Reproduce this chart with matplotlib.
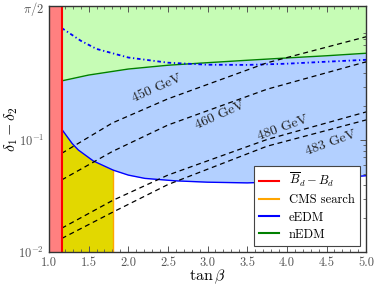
import numpy as np
import matplotlib
matplotlib.use('Agg')
import matplotlib.pyplot as plt
from matplotlib.ticker import FixedLocator, LogLocator, MultipleLocator, NullFormatter
from matplotlib.lines import Line2D

plt.rcParams['font.family'] = 'serif'
plt.rcParams['font.serif'] = ['cmr10']
plt.rcParams['mathtext.fontset'] = 'cm'
plt.rcParams['axes.formatter.use_mathtext'] = True
plt.rcParams['axes.unicode_minus'] = False

# ---- data ----
bd_limit = 1.16
cms_limit = 1.81

tb_eedm = [1.16, 1.29, 1.37, 1.56, 1.81, 2.0, 2.21, 2.59, 3.0, 3.5, 4.0, 4.5, 5.0]
eedm_low = [0.125, 0.0934, 0.0814, 0.0649, 0.0538, 0.0486, 0.0454, 0.0432, 0.042, 0.0414, 0.0425, 0.0448, 0.048]

tb_nedm = [1.16, 1.5, 2.0, 2.5, 3.0, 3.5, 4.0, 4.5, 5.0]
nedm = [0.337, 0.38, 0.43, 0.465, 0.49, 0.515, 0.54, 0.565, 0.595]

tb_dot = [1.16, 1.4, 1.6, 2.0, 2.5, 3.0, 3.5, 4.0, 4.5, 5.0]
eedm_dot = [1.0, 0.77, 0.65, 0.545, 0.49, 0.47, 0.468, 0.48, 0.50, 0.52]

tb_mass = [1.16, 1.8, 2.5, 3.75, 5.0]
m450 = [0.076, 0.142, 0.233, 0.489, 0.835]
m460 = [0.044, 0.079, 0.136, 0.284, 0.499]
m480 = [0.0163, 0.0288, 0.0486, 0.101, 0.178]
m483 = [0.0132, 0.0226, 0.040, 0.088, 0.151]
mass_labels = ['450 GeV', '460 GeV', '480 GeV', '483 GeV']
label_pos = [(2.36, 0.286), (3.15, 0.164), (3.95, 0.128), (4.56, 0.094)]
label_rot = [24, 24, 20, 20]

legend_labels = [r'$\overline{B}_d - B_d$', 'CMS search', 'eEDM', 'nEDM']
legend_colors = ['red', 'orange', 'blue', 'green']

ymin, ymax = 1e-2, np.pi / 2
xmin, xmax = 1.0, 5.0

# ---- figure ----
fig = plt.figure(figsize=(3.74, 2.87), dpi=100)
ax = fig.add_axes([0.131, 0.122, 0.848, 0.857])
ax.set_yscale('log')
ax.set_xlim(xmin, xmax)
ax.set_ylim(ymin, ymax)

# green (nEDM) region
tn = np.array(tb_nedm)
ax.fill_between(tn, nedm, ymax, color='#c6fcb5', lw=0, zorder=1)
# blue region between eEDM lower curve and nEDM curve
te = np.array(tb_eedm)
tb_all = np.union1d(te, tn)
low_all = np.exp(np.interp(tb_all, te, np.log(eedm_low)))
up_all = np.exp(np.interp(tb_all, tn, np.log(nedm)))
ax.fill_between(tb_all, low_all, up_all, color='#b3d0ff', lw=0, zorder=1)
# yellow region (CMS)
mask = tb_all <= cms_limit + 1e-9
ax.fill_between(tb_all[mask], ymin, low_all[mask], color='#e2d800', lw=0, zorder=1.5)
ax.plot([cms_limit, cms_limit], [ymin, np.exp(np.interp(cms_limit, te, np.log(eedm_low)))],
        color='orange', lw=1.0, zorder=2)

# curves
ax.plot(tb_eedm, eedm_low, color='blue', lw=1.0, zorder=3)
ax.plot(tb_nedm, nedm, color='green', lw=1.0, zorder=3)
ax.plot(tb_dot, eedm_dot, color='blue', lw=1.3, ls=(0, (2.0, 1.5, 0.7, 1.5)), zorder=3)

# mass contours
for vals, lab, pos, rot in zip([m450, m460, m480, m483], mass_labels, label_pos, label_rot):
    ax.plot(tb_mass, vals, color='black', lw=0.9, ls=(0, (4, 3)), zorder=4)
    ax.text(pos[0], pos[1], lab, rotation=rot, ha='center', va='center',
            fontsize=10, color='#222222', zorder=5)

# red region (B_d mixing)
ax.axvspan(xmin, bd_limit, color='#ff8080', lw=0, zorder=6)
ax.axvline(bd_limit, color='red', lw=1.5, zorder=7)

# ticks
ax.xaxis.set_major_locator(MultipleLocator(0.5))
ax.xaxis.set_minor_locator(MultipleLocator(0.1))
ax.xaxis.set_major_formatter(plt.FuncFormatter(lambda v, p: f'{v:.1f}'))
ax.yaxis.set_major_locator(FixedLocator([1e-2, 1e-1, np.pi / 2]))
ax.yaxis.set_major_formatter(plt.FixedFormatter([r'$10^{-2}$', r'$10^{-1}$', r'$\pi/2$']))
ax.yaxis.set_minor_locator(LogLocator(base=10, subs=np.arange(2, 10), numticks=20))
ax.yaxis.set_minor_formatter(NullFormatter())
ax.tick_params(which='both', direction='in', top=True, right=True, colors='#555555',
               labelsize=9)
ax.tick_params(which='major', length=4, width=0.7)
ax.tick_params(which='minor', length=2, width=0.6)
for s in ax.spines.values():
    s.set_color('#333333')
    s.set_linewidth(1.0)
    s.set_zorder(10)

ax.set_xlabel(r'$\tan\beta$', fontsize=11.5, labelpad=-1)
ax.set_ylabel(r'$\delta_1-\delta_2$', fontsize=11.5)
ax.yaxis.set_label_coords(-0.092, 0.5)

handles = [Line2D([], [], color=c, lw=1.5) for c in legend_colors]
leg = ax.legend(handles, legend_labels, loc='lower right', fontsize=9, fancybox=False,
                framealpha=1, edgecolor='#444444', handlelength=1.6,
                borderaxespad=0.5, labelspacing=0.4)
leg.get_frame().set_linewidth(0.8)
leg.set_zorder(11)

fig.savefig('out.png', dpi=100)
